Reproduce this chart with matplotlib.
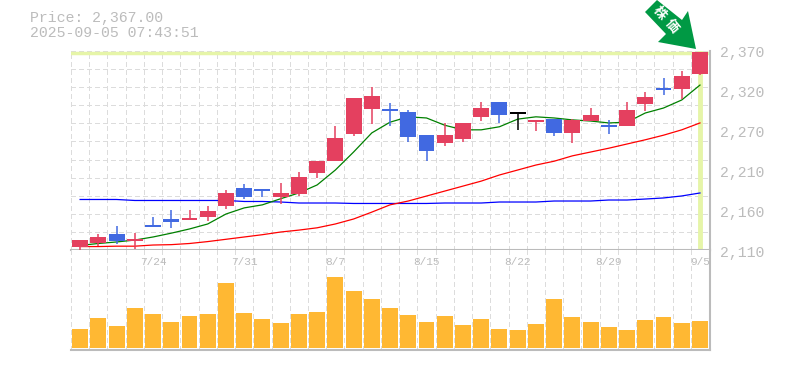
import numpy as np
import matplotlib
matplotlib.use("Agg")
import matplotlib.pyplot as plt
from matplotlib.patches import Polygon

# daily prices
opens = [2114, 2119, 2131, 2122, 2143, 2150, 2149, 2153, 2167, 2191, 2190, 2179, 2183, 2211, 2226, 2262, 2294, 2294,
         2290, 2260, 2250, 2255, 2284, 2303, 2288, 2277, 2281, 2263, 2279, 2272, 2272, 2301, 2322, 2320, 2340]
closes = [2123, 2127, 2122, 2124, 2140, 2147, 2152, 2161, 2184, 2179, 2187, 2184, 2205, 2226, 2256, 2309, 2311, 2292,
          2258, 2239, 2260, 2276, 2296, 2286, 2288, 2280, 2263, 2280, 2286, 2271, 2293, 2310, 2319, 2337, 2369]
highs = [2123, 2131, 2141, 2132, 2153, 2162, 2162, 2167, 2188, 2196, 2190, 2198, 2212, 2226, 2272, 2309, 2323, 2302,
         2293, 2260, 2276, 2276, 2303, 2303, 2289, 2280, 2281, 2281, 2296, 2280, 2303, 2316, 2335, 2344, 2369]
lows = [2109, 2115, 2118, 2111, 2140, 2139, 2149, 2148, 2164, 2177, 2179, 2170, 2181, 2204, 2226, 2259, 2275, 2272,
        2251, 2226, 2246, 2251, 2279, 2276, 2267, 2265, 2259, 2250, 2279, 2262, 2272, 2291, 2312, 2307, 2339]
ma_short = [2116, 2118.5, 2120.5, 2123, 2127, 2132, 2137.5, 2144, 2157, 2165, 2169, 2177, 2184.5, 2195, 2214.5, 2238,
            2263, 2277, 2284, 2282.5, 2273, 2267, 2267, 2271, 2281, 2284, 2282.5, 2280, 2278.5, 2276, 2277, 2289,
            2295.5, 2306, 2325.5]
ma_mid = [2114.5, 2114.5, 2115, 2115, 2116.5, 2117, 2118.5, 2121, 2124, 2127, 2130, 2133.5, 2136, 2139, 2144, 2150.5,
          2159.5, 2169, 2174, 2180.5, 2187, 2193.5, 2200, 2208, 2214.5, 2221, 2226, 2233, 2238, 2243, 2248.5, 2254,
          2260, 2267, 2276]
ma_long = [2176, 2176, 2176, 2174.7, 2174.7, 2174.7, 2174.7, 2174.7, 2174.7, 2173.4, 2173.4, 2172.7, 2171.4, 2171.4,
           2171.4, 2170.8, 2170.8, 2170.8, 2170.8, 2170.8, 2171.4, 2171.4, 2171.4, 2172.7, 2172.7, 2172.7, 2174, 2174,
           2174, 2175.3, 2175.3, 2176.6, 2178, 2180.6, 2184.5]
volumes = [57, 90, 66, 120, 102, 78, 96, 102, 195, 105, 87, 75, 102, 108, 213, 171, 147, 120, 99, 78, 96, 69, 87, 57,
           54, 72, 147, 93, 78, 63, 54, 84, 93, 75, 81]

date_pos = [4, 9, 14, 19, 24, 29, 34]
date_labels = ["7/24", "7/31", "8/7", "8/15", "8/22", "8/29", "9/5"]
price_labels = ["2,370", "2,320", "2,270", "2,210", "2,160", "2,110"]
title_lines = ["Price: 2,367.00", "2025-09-05 07:43:51"]

W, H = 785, 370
UP, DOWN, FLAT = "#e4405f", "#4169e1", "#000000"
GRID, AXIS, TEXT = "#dcdcdc", "#bbbbbb", "#bcbcbc"
HILITE = "#e6f5a8"
FONT = "Liberation Mono"


def px_axes(fig, left, top, right, bottom):
    return fig.add_axes([left / W, 1 - bottom / H, (right - left) / W, (bottom - top) / H])


fig = plt.figure(figsize=(W / 100, H / 100), dpi=100)
ax = px_axes(fig, 71, 51, 710, 250)
vol = px_axes(fig, 71, 250, 710, 350)

n = len(closes)
xs = np.arange(n)
for a in (ax, vol):
    a.set_xlim(-0.5, n - 0.45)
    a.set_xticks(xs - 0.5)
    a.tick_params(length=0, labelbottom=False, labelleft=False)
    a.grid(True, color=GRID, linestyle=(0, (4, 3)), linewidth=0.75, antialiased=False)
    a.set_axisbelow(True)
    a.spines["left"].set_visible(False)
    a.spines["top"].set_visible(False)
    a.spines["right"].set_color(AXIS)
    a.spines["bottom"].set_color(AXIS)
    a.spines["right"].set_linewidth(1.5)
    a.spines["bottom"].set_linewidth(1.5)

ax.set_ylim(2110, 2370)
ax.set_yticks(np.linspace(2110, 2370, 12))
vol.set_ylim(-6, 294)
vol.set_yticks([])

# highlight of the last session
ax.axhline(2368, color=HILITE, linewidth=2.5, zorder=1.5)
ax.axvline(xs[-1], color=HILITE, linewidth=3.5, zorder=1.5)

for m, c in [(ma_long, "#0000ff"), (ma_mid, "#ff0000"), (ma_short, "#008000")]:
    ax.plot(xs, m, color=c, linewidth=0.9, zorder=2)

for i in range(n):
    if closes[i] > opens[i]:
        c = UP
    elif closes[i] < opens[i]:
        c = DOWN
    else:
        c = FLAT
    ax.plot([i, i], [lows[i], highs[i]], color=c, linewidth=1.1, zorder=3, clip_on=False, solid_capstyle="butt")
    body = max(abs(closes[i] - opens[i]), 1.8)
    ax.bar(i, body, bottom=min(opens[i], closes[i]), width=0.875, color=c, linewidth=0, zorder=4)

vol.bar(xs, volumes, width=0.875, color="#ffb833", linewidth=0, zorder=3)

for p, lab in zip(date_pos, date_labels):
    vol.annotate(lab, (p, 1), xycoords=("data", "axes fraction"), xytext=(0, -12), textcoords="offset pixels",
                 ha="center", va="center", family=FONT, fontsize=8, color=TEXT)

for k, lab in enumerate(price_labels):
    fig.text(720 / W, 1 - (53 + 40 * k) / H, lab, ha="left", va="center", family=FONT, fontsize=10.7, color=TEXT)

for k, line in enumerate(title_lines):
    fig.text(30 / W, 1 - (18 + 15 * k) / H, line, ha="left", va="center", family=FONT, fontsize=10.7, color=TEXT)

# green arrow pointing at the last candle
arrow = [(645, 12), (657, 0), (682, 20), (688, 11), (696, 49), (658, 42), (666, 34)]
fig.add_artist(Polygon([(x / W, 1 - y / H) for x, y in arrow], closed=True, transform=fig.transFigure,
                       facecolor="#009944", edgecolor="none", zorder=5))
fig.text(660 / W, 1 - 13 / H, "株", rotation=-50, ha="center", va="center", color="white", fontsize=9.5,
         family=["Noto Sans CJK JP", "DejaVu Sans"], weight="bold", zorder=6)
fig.text(672 / W, 1 - 26 / H, "価", rotation=-50, ha="center", va="center", color="white", fontsize=9.5,
         family=["Noto Sans CJK JP", "DejaVu Sans"], weight="bold", zorder=6)

fig.savefig("out.png", dpi=100)
